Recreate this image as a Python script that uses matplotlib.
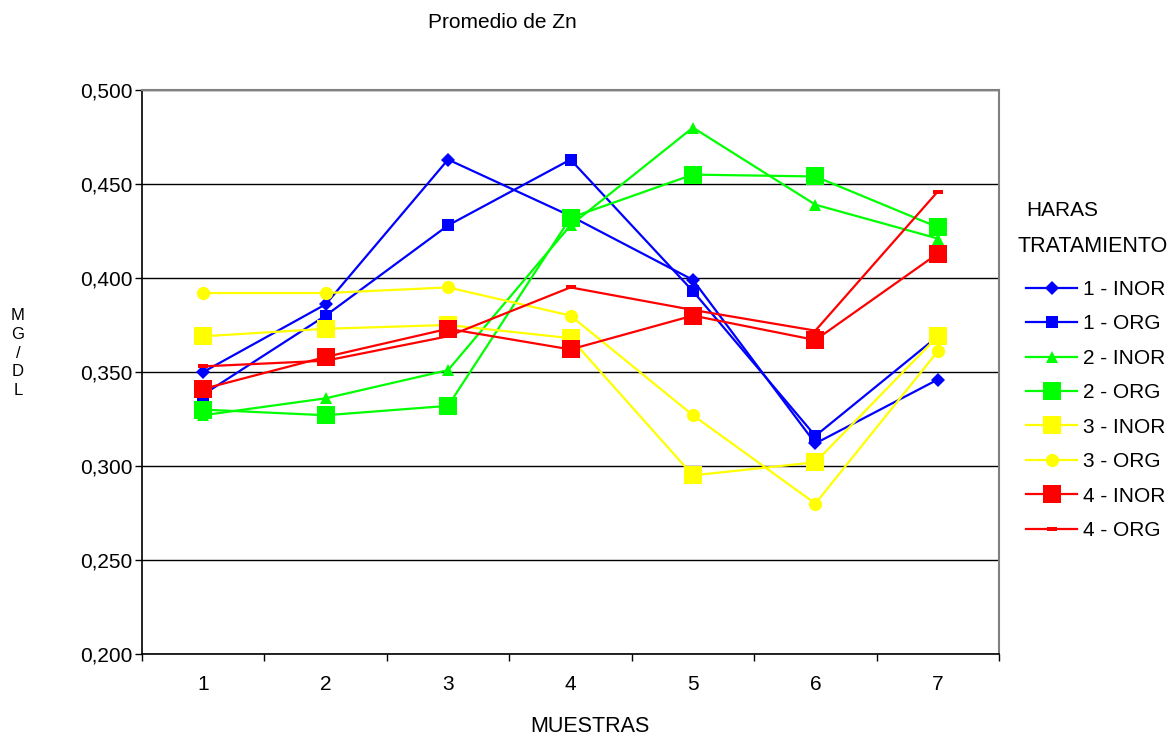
import matplotlib
matplotlib.use("Agg")
import matplotlib.pyplot as plt
from matplotlib.ticker import FuncFormatter, FixedLocator
from matplotlib.path import Path

plt.rcParams['font.family'] = ['Liberation Sans', 'DejaVu Sans']

muestras = [1, 2, 3, 4, 5, 6, 7]

inor_1 = [0.350, 0.386, 0.463, 0.433, 0.399, 0.312, 0.346]
org_1 = [0.338, 0.380, 0.428, 0.463, 0.393, 0.316, 0.369]
inor_2 = [0.327, 0.336, 0.351, 0.428, 0.480, 0.439, 0.421]
org_2 = [0.330, 0.327, 0.332, 0.432, 0.455, 0.454, 0.427]
inor_3 = [0.369, 0.373, 0.375, 0.368, 0.295, 0.302, 0.369]
org_3 = [0.392, 0.392, 0.395, 0.380, 0.327, 0.280, 0.361]
inor_4 = [0.341, 0.358, 0.373, 0.362, 0.380, 0.367, 0.413]
org_4 = [0.353, 0.356, 0.369, 0.395, 0.383, 0.372, 0.446]

labels = ["1 - INOR", "1 - ORG", "2 - INOR", "2 - ORG",
          "3 - INOR", "3 - ORG", "4 - INOR", "4 - ORG"]

y_ticks = [0.200, 0.250, 0.300, 0.350, 0.400, 0.450, 0.500]

# flat rectangle marker used for the last series
dash_marker = Path([(-1, -0.5), (1, -0.5), (1, 0.5), (-1, 0.5), (-1, -0.5)],
                   [Path.MOVETO, Path.LINETO, Path.LINETO, Path.LINETO, Path.CLOSEPOLY])

styles = [
    dict(color="#0000FF", marker="D", ms=7.5),
    dict(color="#0000FF", marker="s", ms=9),
    dict(color="#00FF00", marker="^", ms=9),
    dict(color="#00FF00", marker="s", ms=13.5),
    dict(color="#FFFF00", marker="s", ms=13.5),
    dict(color="#FFFF00", marker="o", ms=9.5),
    dict(color="#FF0000", marker="s", ms=13.5),
    dict(color="#FF0000", marker=dash_marker, ms=7),
]

series = [inor_1, org_1, inor_2, org_2, inor_3, org_3, inor_4, org_4]

fs = 15

fig = plt.figure(figsize=(11.73, 7.36), dpi=100)
ax = fig.add_axes([142 / 1173, 1 - 654 / 736, (999 - 142) / 1173, (654 - 90) / 736])

handles = []
for vals, lab, st in zip(series, labels, styles):
    h, = ax.plot(muestras, vals, color=st["color"], lw=1.6, marker=st["marker"],
                 ms=st["ms"], mfc=st["color"], mec=st["color"], mew=0, label=lab)
    handles.append(h)

ax.set_xlim(0.5, 7.5)
ax.set_ylim(0.2, 0.5)
ax.yaxis.set_major_locator(FixedLocator(y_ticks))
ax.yaxis.set_major_formatter(FuncFormatter(lambda v, p: f"{v:.3f}".replace(".", ",")))
ax.grid(axis="y", color="black", lw=1)
ax.set_axisbelow(True)

ax.set_xticks(muestras)
ax.set_xticklabels([str(m) for m in muestras])
ax.set_xticks([m + 0.5 for m in [0] + muestras], minor=True)
ax.tick_params(axis="x", which="major", length=0, pad=15, labelsize=fs)
ax.tick_params(axis="x", which="minor", length=5, direction="out", width=1)
ax.tick_params(axis="y", which="major", length=5, direction="out", width=1, labelsize=fs, pad=2)

for side in ["top", "right"]:
    ax.spines[side].set_color("#808080")
    ax.spines[side].set_linewidth(1.5)
for side in ["left", "bottom"]:
    ax.spines[side].set_color("black")
    ax.spines[side].set_linewidth(1.2)

fig.text(502 / 1173, 1 - 23 / 736, "Promedio de Zn", ha="center", va="center", fontsize=fs)
fig.text(590 / 1173, 1 - 727 / 736, "MUESTRAS", ha="center", va="center", fontsize=fs + 0.5)
fig.text(18 / 1173, 1 - 353 / 736, "M\nG\n/\nD\nL", ha="center", va="center",
         fontsize=12, linespacing=1.3)

fig.text(1026 / 1173, 1 - 211 / 736, "HARAS", ha="left", va="center", fontsize=fs)
fig.text(1017 / 1173, 1 - 246 / 736, "TRATAMIENTO", ha="left", va="center", fontsize=fs + 0.5)

leg = fig.legend(handles=handles, labels=labels, loc="upper left",
                 bbox_to_anchor=(1026 / 1173, 1 - 280 / 736), frameon=False,
                 fontsize=fs, handlelength=2.45, handletextpad=0.3,
                 labelspacing=0.74, borderaxespad=0, borderpad=0)

fig.savefig("out.png", dpi=100)
